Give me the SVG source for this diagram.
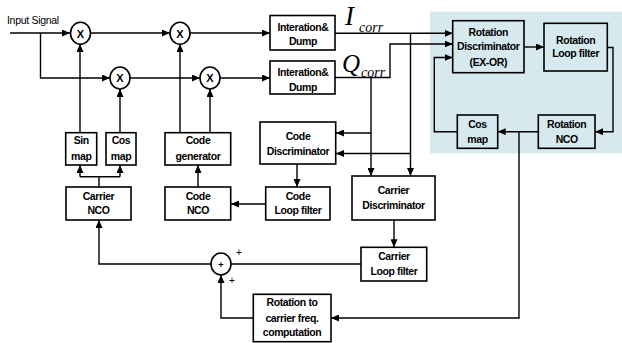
<svg xmlns="http://www.w3.org/2000/svg" width="622" height="343" viewBox="0 0 622 343">
<defs>
<marker id="ah" markerUnits="userSpaceOnUse" markerWidth="8" markerHeight="7" refX="8" refY="3.5" orient="auto">
<path d="M0,0 L8,3.5 L0,7 z" fill="#000"/>
</marker>
<style>
.b{fill:#fff;stroke:#000;stroke-width:1.6}
.bb{fill:none;stroke:#000;stroke-width:1.6}
.c{fill:none;stroke:#000;stroke-width:1.4}
.a{marker-end:url(#ah)}
.t{font-family:"Liberation Sans",Arial,sans-serif;font-size:10.5px;font-weight:bold;letter-spacing:-0.4px;text-anchor:middle;fill:#000}
.s{font-family:"Liberation Serif","Times New Roman",serif;font-style:italic;fill:#000}
</style>
</defs>
<rect x="430" y="11.7" width="192" height="141.6" fill="#d5e9ee"/>

<g id="connectors">
<path class="c a" d="M10,33 H70"/>
<path class="c a" d="M40.5,33 V78 H110"/>
<path class="c a" d="M90,33 H170"/>
<path class="c a" d="M190,33 H270"/>
<path class="c a" d="M130,78 H200"/>
<path class="c a" d="M220,78 H270"/>
<path class="c a" d="M80,132.7 V44"/>
<path class="c a" d="M120,132.7 V89"/>
<path class="c a" d="M180,132.7 V44"/>
<path class="c a" d="M210,132.7 V89"/>
<path class="c" d="M99,187 V176.7 M80,176.7 H120"/>
<path class="c a" d="M80,176.7 V165"/>
<path class="c a" d="M120,176.7 V165"/>
<path class="c a" d="M198,187 V165"/>
<path class="c a" d="M265.7,204 H231"/>
<path class="c a" d="M297,164 V187"/>
<path class="c a" d="M335,33.3 H452.7"/>
<path class="c a" d="M410.5,33.3 V176"/>
<path class="c a" d="M410.5,153.5 H336"/>
<path class="c a" d="M335,77.5 H390 V44 H452.7"/>
<path class="c a" d="M371,77.5 V176"/>
<path class="c a" d="M371,133 H336"/>
<path class="c a" d="M524,47 H544"/>
<path class="c a" d="M607.3,47.5 H613 V131.7 H595"/>
<path class="c a" d="M538.3,131.7 H497.7"/>
<path class="c a" d="M457.3,131.7 H434.3 V57.5 H452.7"/>
<path class="c a" d="M519,131.7 V318 H331"/>
<path class="c a" d="M394,220 V247.3"/>
<path class="c" d="M361,264 H231"/>
<path class="c a" d="M211,264 H99 V220"/>
<path class="c a" d="M253.3,318 H221 V275"/>
</g>

<text x="7" y="24" style="font-family:'Liberation Sans',Arial,sans-serif;font-size:10.5px;letter-spacing:-0.3px">Input Signal</text>

<g id="mult1"><ellipse class="b" cx="80.5" cy="33.3" rx="10" ry="11"/><text class="t" x="80.5" y="37.5" style="letter-spacing:0;font-size:11px">X</text></g>
<g id="mult2"><ellipse class="b" cx="180" cy="33.3" rx="10" ry="11"/><text class="t" x="180" y="37.5" style="letter-spacing:0;font-size:11px">X</text></g>
<g id="mult3"><ellipse class="b" cx="120" cy="78" rx="10" ry="11"/><text class="t" x="120" y="82.2" style="letter-spacing:0;font-size:11px">X</text></g>
<g id="mult4"><ellipse class="b" cx="210" cy="78" rx="10" ry="11"/><text class="t" x="210" y="82.2" style="letter-spacing:0;font-size:11px">X</text></g>

<g id="intdump1"><rect class="b" x="270" y="15.5" width="65" height="34.5"/><text class="t" x="303" y="30.5">Interation&amp;</text><text class="t" x="303" y="45">Dump</text></g>
<g id="intdump2"><rect class="b" x="270" y="61" width="65" height="33"/><text class="t" x="303" y="76">Interation&amp;</text><text class="t" x="303" y="90.5">Dump</text></g>

<g id="icorr"><text class="s" x="345" y="25" style="font-size:27px">I</text><text class="s" x="359" y="32.3" style="font-size:14px">corr</text></g>
<g id="qcorr"><text class="s" x="342" y="72" style="font-size:25px">Q</text><text class="s" x="361" y="77" style="font-size:14px">corr</text></g>

<g id="rotdisc"><rect class="bb" x="452.7" y="20.7" width="71.3" height="52"/><text class="t" x="488.3" y="35.5">Rotation</text><text class="t" x="488.3" y="50">Discriminator</text><text class="t" x="488.3" y="65.5">(EX-OR)</text></g>
<g id="rotloop"><rect class="bb" x="544" y="23.3" width="63.3" height="47.7"/><text class="t" x="575.7" y="43.5">Rotation</text><text class="t" x="575.7" y="57">Loop filter</text></g>
<g id="rotcos"><rect class="bb" x="457.3" y="115" width="40.4" height="33.3"/><text class="t" x="477.5" y="127.5">Cos</text><text class="t" x="477.5" y="142.5">map</text></g>
<g id="rotnco"><rect class="bb" x="538.3" y="115" width="56.7" height="33.3"/><text class="t" x="566.7" y="127.5">Rotation</text><text class="t" x="566.7" y="142.5">NCO</text></g>

<g id="codedisc"><rect class="b" x="260" y="122" width="75.7" height="42"/><text class="t" x="298" y="139.5">Code</text><text class="t" x="298" y="155">Discriminator</text></g>
<g id="carrdisc"><rect class="b" x="352" y="176" width="83" height="44"/><text class="t" x="393.5" y="193.5">Carrier</text><text class="t" x="393.5" y="208.5">Discriminator</text></g>
<g id="codeloop"><rect class="b" x="265.7" y="187" width="64.3" height="33"/><text class="t" x="298" y="199.5">Code</text><text class="t" x="298" y="213.5">Loop filter</text></g>
<g id="codenco"><rect class="b" x="165" y="187" width="65.7" height="33"/><text class="t" x="198" y="199.5">Code</text><text class="t" x="198" y="213.5">NCO</text></g>
<g id="codegen"><rect class="b" x="165" y="132.7" width="65.7" height="32.3"/><text class="t" x="198" y="144">Code</text><text class="t" x="198" y="159.5">generator</text></g>
<g id="sinmap"><rect class="b" x="65.7" y="132.7" width="31" height="32.3"/><text class="t" x="81.2" y="144">Sin</text><text class="t" x="81.2" y="159.5">map</text></g>
<g id="cosmap"><rect class="b" x="106" y="132.7" width="30" height="32.3"/><text class="t" x="121" y="144">Cos</text><text class="t" x="121" y="159.5">map</text></g>
<g id="carrnco"><rect class="b" x="66" y="187" width="65" height="33"/><text class="t" x="98.5" y="199.5">Carrier</text><text class="t" x="98.5" y="213.5">NCO</text></g>
<g id="carrloop"><rect class="b" x="361" y="247.3" width="65.7" height="33.7"/><text class="t" x="394" y="259.5">Carrier</text><text class="t" x="394" y="275">Loop filter</text></g>
<g id="rot2carr"><rect class="b" x="253.3" y="294.3" width="77.7" height="47.4"/><text class="t" x="292" y="306">Rotation to</text><text class="t" x="292" y="321.5">carrier freq.</text><text class="t" x="292" y="336">computation</text></g>

<g id="sum"><ellipse class="b" cx="221" cy="264" rx="10" ry="11"/><text class="t" x="221" y="267.5" style="letter-spacing:0;font-size:9px">+</text>
<text x="239" y="256" style="font-family:'Liberation Sans',Arial,sans-serif;font-size:10px;text-anchor:middle">+</text>
<text x="232" y="284" style="font-family:'Liberation Sans',Arial,sans-serif;font-size:10px;text-anchor:middle">+</text></g>
</svg>
